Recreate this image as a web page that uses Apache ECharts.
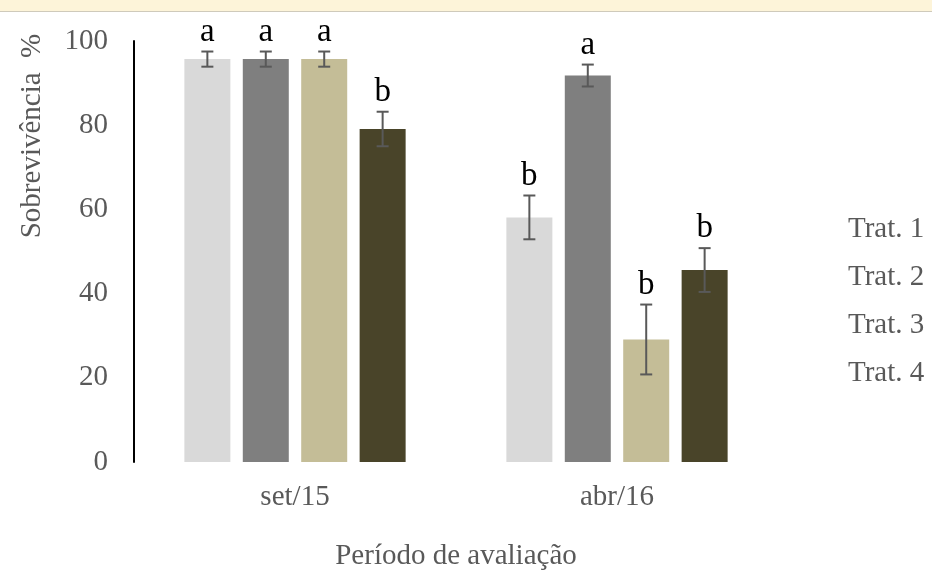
<!DOCTYPE html>
<html>
<head>
<meta charset="utf-8">
<script src="https://cdn.jsdelivr.net/npm/echarts@6/dist/echarts.min.js"></script>
<style>
  html, body { margin: 0; padding: 0; background: #fff; }
  #chart { width: 932px; height: 570px; }
</style>
</head>
<body>
<div id="chart"></div>
<script>
const periods = ['set/15', 'abr/16']
const treatments = ['Trat. 1', 'Trat. 2', 'Trat. 3', 'Trat. 4']
const colors = ['#d9d9d9', '#7f7f7f', '#c4bd97', '#494429']

// sobrevivência média (%) por tratamento, [set/15, abr/16]
const trat1 = [95.7, 58.1]
const trat2 = [95.7, 91.8]
const trat3 = [95.7, 29.1]
const trat4 = [79.1, 45.6]
const values = [trat1, trat2, trat3, trat4]

// erro padrão
const err1 = [1.8, 5.2]
const err2 = [1.8, 2.6]
const err3 = [1.8, 8.3]
const err4 = [4.1, 5.2]
const errors = [err1, err2, err3, err4]

// letras de significância
const let1 = ['a', 'b']
const let2 = ['a', 'a']
const let3 = ['a', 'b']
const let4 = ['b', 'b']
const letters = [let1, let2, let3, let4]

const yTicks = [0, 20, 40, 60, 80, 100]

const FONT = 'Liberation Serif'
const BAR_W = 46
const BAR_GAP = 0.27
const PITCH = BAR_W * (1 + BAR_GAP)

const chart = echarts.init(document.getElementById('chart'))

const barSeries = treatments.map((name, i) => ({
  name: name,
  type: 'bar',
  barWidth: BAR_W,
  barGap: (BAR_GAP * 100) + '%',
  itemStyle: { color: colors[i] },
  data: values[i]
}))

const errSeries = treatments.map((name, i) => ({
  name: 'err-' + name,
  type: 'custom',
  z: 5,
  encode: { x: 0, y: 1 },
  data: periods.map((p, k) => [k, values[i][k], errors[i][k]]),
  renderItem: (params, api) => {
    const k = api.value(0)
    const v = api.value(1)
    const e = api.value(2)
    const dx = (i - 1.5) * PITCH
    const top = api.coord([k, v + e])
    const bot = api.coord([k, v - e])
    const x = top[0] + dx
    const cap = 6
    const style = { stroke: '#595959', lineWidth: 2 }
    return {
      type: 'group',
      children: [
        { type: 'line', shape: { x1: x, y1: top[1], x2: x, y2: bot[1] }, style },
        { type: 'line', shape: { x1: x - cap, y1: top[1], x2: x + cap, y2: top[1] }, style },
        { type: 'line', shape: { x1: x - cap, y1: bot[1], x2: x + cap, y2: bot[1] }, style },
        {
          type: 'text',
          x: x,
          y: top[1] - 3,
          style: {
            text: letters[i][k],
            fill: '#000',
            font: '33px "' + FONT + '"',
            align: 'center',
            verticalAlign: 'bottom'
          }
        }
      ]
    }
  }
}))

const option = {
  animation: false,
  backgroundColor: '#fff',
  textStyle: { fontFamily: FONT },
  grid: { left: 134, right: 154, top: 41, bottom: 108, outerBoundsMode: 'none', containLabel: false },
  legend: {
    data: treatments,
    orient: 'vertical',
    left: 838,
    top: 210,
    itemWidth: 0,
    itemHeight: 0,
    itemGap: 19,
    selectedMode: false,
    textStyle: { color: '#595959', fontSize: 29, fontFamily: FONT }
  },
  xAxis: {
    type: 'category',
    data: periods,
    axisLine: { show: false },
    axisTick: { show: false },
    axisLabel: { color: '#595959', fontSize: 29, fontFamily: FONT, margin: 21 },
    name: 'Período de avaliação',
    nameLocation: 'middle',
    nameGap: 80,
    nameTextStyle: { color: '#595959', fontSize: 29, fontFamily: FONT }
  },
  yAxis: {
    type: 'value',
    min: yTicks[0],
    max: yTicks[yTicks.length - 1],
    interval: yTicks[1] - yTicks[0],
    axisLine: { show: true, lineStyle: { color: '#000', width: 2 } },
    axisTick: { show: false },
    splitLine: { show: false },
    axisLabel: { color: '#595959', fontSize: 29, fontFamily: FONT, margin: 26 }
  },
  graphic: [
    { type: 'rect', left: 0, top: 0, shape: { width: 932, height: 11 }, style: { fill: '#fdf4d9' }, z: 10 },
    { type: 'rect', left: 0, top: 11, shape: { width: 932, height: 1 }, style: { fill: '#cfcabb' }, z: 10 },
    {
      type: 'text',
      x: 32,
      y: 136,
      rotation: Math.PI / 2,
      style: {
        text: 'Sobrevivência  %',
        fill: '#595959',
        font: '29px "' + FONT + '"',
        align: 'center',
        verticalAlign: 'middle'
      }
    }
  ],
  series: [...barSeries, ...errSeries]
}

chart.setOption(option)
</script>
</body>
</html>
